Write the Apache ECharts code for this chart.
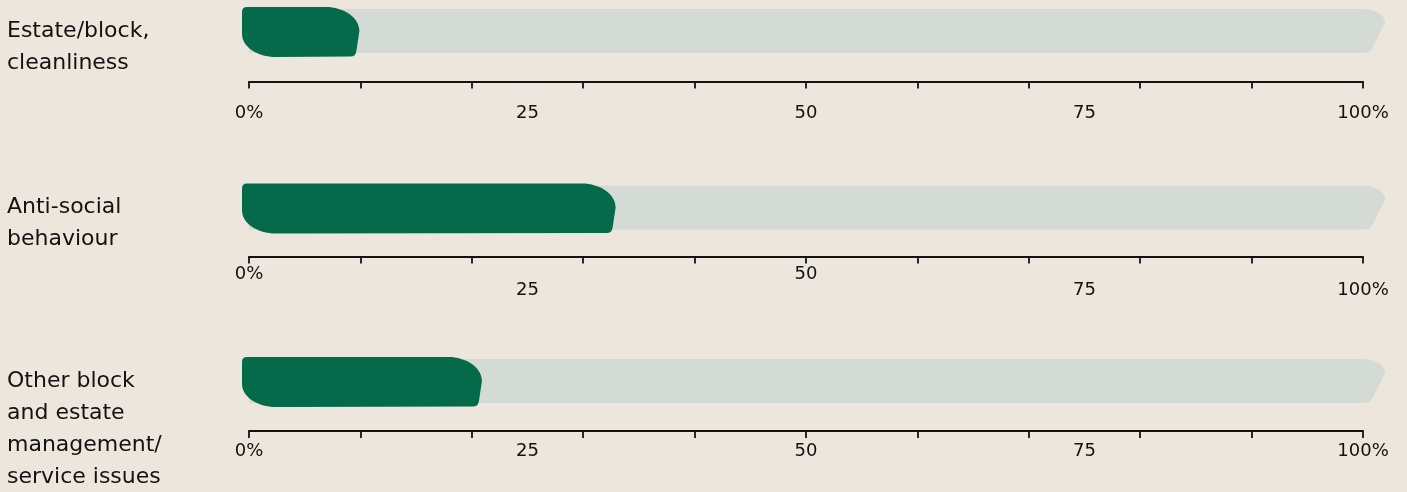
<!DOCTYPE html>
<html>
<head>
<meta charset="utf-8">
<script src="https://cdn.jsdelivr.net/npm/echarts@6/dist/echarts.min.js"></script>
<style>
  html, body { margin: 0; padding: 0; background: #ede6dc; }
  #chart { width: 1407px; height: 492px; }
</style>
</head>
<body>
<div id="chart"></div>
<script>
// Share of complaints by topic, one small panel per topic
var categories = [
  'Estate/block,\ncleanliness',
  'Anti-social\nbehaviour',
  'Other block\nand estate\nmanagement/\nservice issues'
];
var values = [10, 33, 21];          // percent
var tickValues = [0, 10, 20, 30, 40, 50, 60, 70, 80, 90, 100];
var tickLabels = [0, 25, 50, 75, 100];

// Layout of each panel (pixels)
var panelTops = [7, 183.5, 357];
var barHeight = 50;
var axisOffsets = [24.5, 23, 24];
// Rows of axis labels per panel: which labels, and their distance below the axis line
var labelRows = [
  [{ values: tickLabels, margin: 23 }],
  [{ values: [0, 50], margin: 9 }, { values: [25, 75, 100], margin: 25 }],
  [{ values: tickLabels, margin: 11 }]
];

var GREEN = '#046a4a';
var TRACK = '#d3dbd4';
var INK = '#121212';
var FONT = '"DejaVu Sans", sans-serif';

function fmtPct(v) {
  return (v === 0 || v === 100) ? v + '%' : String(v);
}

// Rounded, slightly hand-drawn bar with a full-width track behind it
function renderBar(params, api) {
  var val = api.value(0);
  var zero = api.coord([0, api.value(1)]);
  var full = api.coord([100, api.value(1)]);
  var band = api.size([0, 1])[1];
  var yc = zero[1];
  var yt = yc - band / 2, yb = yc + band / 2;
  var k = 0.552;

  // track
  var tx0 = zero[0], tx1 = full[0] + 22;
  var tt = yt + 2, tb = yb - 4;
  var trx = 22, trY = 14;
  var track = [
    'M', tx0, tt,
    'L', tx1 - trx, tt,
    'C', tx1 - trx + k * trx, tt, tx1, tt + trY - k * trY, tx1, tt + trY,
    'L', tx1 - 13, tb - 4,
    'Q', tx1 - 15.5, tb, tx1 - 22, tb,
    'L', tx0, tb, 'Z'
  ].join(' ');

  // value bar
  var x0 = zero[0] - 7;
  var x1 = api.coord([val, api.value(1)])[0] - 1;
  var rxT = 34, ryT = 24, rxB = 34, ryB = 23;
  var bar = [
    'M', x0, yt + 5,
    'Q', x0, yt, x0 + 5, yt,
    'L', x1 - rxT, yt,
    'C', x1 - rxT + k * rxT, yt, x1, yt + ryT - k * ryT, x1, yt + ryT,
    'L', x1 - 3, yb - 6,
    'Q', x1 - 3.6, yb - 0.5, x1 - 9, yb - 0.5,
    'L', x0 + rxB, yb,
    'C', x0 + rxB - k * rxB, yb, x0, yb - ryB + k * ryB, x0, yb - ryB,
    'Z'
  ].join(' ');

  return {
    type: 'group',
    children: [
      { type: 'path', shape: { pathData: track }, style: { fill: TRACK } },
      { type: 'path', shape: { pathData: bar }, style: { fill: GREEN } }
    ]
  };
}

var grids = [], xAxes = [], yAxes = [], series = [], graphics = [];

categories.forEach(function (name, i) {
  grids.push({ left: 249, right: 44, top: panelTops[i], height: barHeight });
  yAxes.push({
    gridIndex: i, type: 'category', data: [name],
    show: false, boundaryGap: true
  });

  var rows = labelRows[i];
  rows.forEach(function (row, r) {
    xAxes.push({
      gridIndex: i, type: 'value', min: 0, max: 100,
      position: 'bottom', offset: axisOffsets[i],
      axisLine: { show: r === 0, lineStyle: { color: INK, width: 1.8 } },
      axisTick: {
        show: r === 0, inside: false, length: 7,
        customValues: tickValues,
        lineStyle: { color: INK, width: 1.8 }
      },
      axisLabel: {
        show: true, customValues: row.values, margin: row.margin,
        formatter: fmtPct, color: INK, fontFamily: FONT, fontSize: 18,
        showMinLabel: true, showMaxLabel: true, hideOverlap: false
      },
      splitLine: { show: false }
    });
  });

  series.push({
    type: 'custom',
    xAxisIndex: xAxes.length - rows.length,
    yAxisIndex: i,
    renderItem: renderBar,
    data: [[values[i], 0]],
    silent: true,
    clip: false
  });

  graphics.push({
    type: 'text', left: 7, top: panelTops[i] + barHeight / 2 - 17,
    style: {
      text: name, fill: INK, font: '22px ' + FONT, lineHeight: 32
    }
  });
});

var chart = echarts.init(document.getElementById('chart'), null, { renderer: 'canvas' });
chart.setOption({
  backgroundColor: '#ede6dc',
  animation: false,
  grid: grids,
  xAxis: xAxes,
  yAxis: yAxes,
  series: series,
  graphic: graphics
});
</script>
</body>
</html>
